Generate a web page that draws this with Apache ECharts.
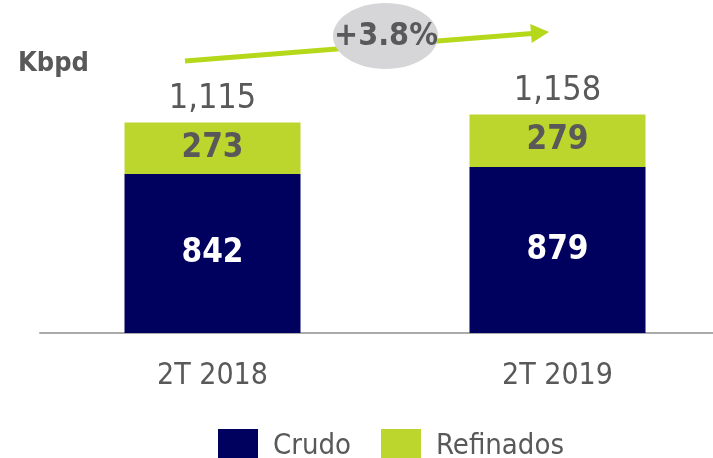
<!DOCTYPE html>
<html>
<head>
<meta charset="utf-8">
<script src="https://cdn.jsdelivr.net/npm/echarts@6/dist/echarts.min.js"></script>
<style>
  html, body { margin: 0; padding: 0; background: #fff; }
  #chart { width: 713px; height: 458px; }
</style>
</head>
<body>
<div id="chart"></div>
<script>
const categories = ['2T 2018', '2T 2019'];
const crudo = [842, 879];
const refinados = [273, 279];
const totals = [1115, 1158];
const growthLabel = '+3.8%';

const font = '"DejaVu Sans Condensed", "DejaVu Sans", sans-serif';
const grey = '#595959';

const chart = echarts.init(document.getElementById('chart'));
const option = {
  animation: false,
  textStyle: { fontFamily: font },
  grid: { left: 40, width: 690, top: 31, bottom: 125, outerBoundsMode: 'none', containLabel: false },
  legend: {
    left: 213,
    top: 424,
    itemWidth: 40,
    itemHeight: 34,
    itemGap: 30,
    icon: 'rect',
    data: ['Crudo', 'Refinados'],
    textStyle: { fontSize: 29, color: grey, fontFamily: font, padding: [0, 0, 0, 10] }
  },
  xAxis: {
    type: 'category',
    data: categories,
    axisLine: { lineStyle: { color: '#aaaaaa', width: 2 } },
    axisTick: { show: false },
    axisLabel: { fontSize: 30, color: grey, margin: 28, fontFamily: font }
  },
  yAxis: {
    type: 'value',
    min: 0,
    max: 1600,
    show: false,
    splitLine: { show: false }
  },
  series: [
    {
      name: 'Crudo',
      type: 'bar',
      stack: 'total',
      barWidth: 176,
      data: crudo,
      itemStyle: { color: '#00005e' },
      label: { show: true, position: 'inside', color: '#fff', fontSize: 33, fontWeight: 'bold', fontFamily: font }
    },
    {
      name: 'Refinados',
      type: 'bar',
      stack: 'total',
      data: refinados,
      itemStyle: { color: '#bcd62e' },
      label: { show: true, position: 'inside', color: grey, fontSize: 33, fontWeight: 'bold', fontFamily: font }
    },
    {
      name: 'Total',
      type: 'scatter',
      data: totals,
      symbolSize: 0,
      silent: true,
      itemStyle: { opacity: 1 },
      label: {
        show: true,
        position: 'top',
        distance: 6,
        color: grey,
        fontSize: 34,
        fontFamily: font,
        formatter: p => p.value.toLocaleString('en-US')
      }
    }
  ],
  graphic: [
    {
      type: 'text', left: 18, top: 50,
      style: { text: 'Kbpd', fontSize: 27, fontWeight: 'bold', fill: grey, fontFamily: font }
    },
    {
      type: 'line',
      shape: { x1: 185, y1: 61, x2: 532, y2: 33.5 },
      style: { stroke: '#b5d81b', lineWidth: 5 }
    },
    {
      type: 'polygon',
      shape: { points: [[549, 32], [530.3, 24], [531.7, 43]] },
      style: { fill: '#b5d81b' }
    },
    {
      type: 'ellipse',
      shape: { cx: 385.5, cy: 36, rx: 52.5, ry: 33 },
      style: { fill: '#d6d6d8' }
    },
    {
      type: 'text', x: 386, y: 37,
      style: { text: growthLabel, fontSize: 32, fontWeight: 'bold', fill: grey, fontFamily: font, align: 'center', verticalAlign: 'middle' }
    }
  ]
};
chart.setOption(option);
window.onresize = () => { chart.resize(); };
</script>
</body>
</html>
